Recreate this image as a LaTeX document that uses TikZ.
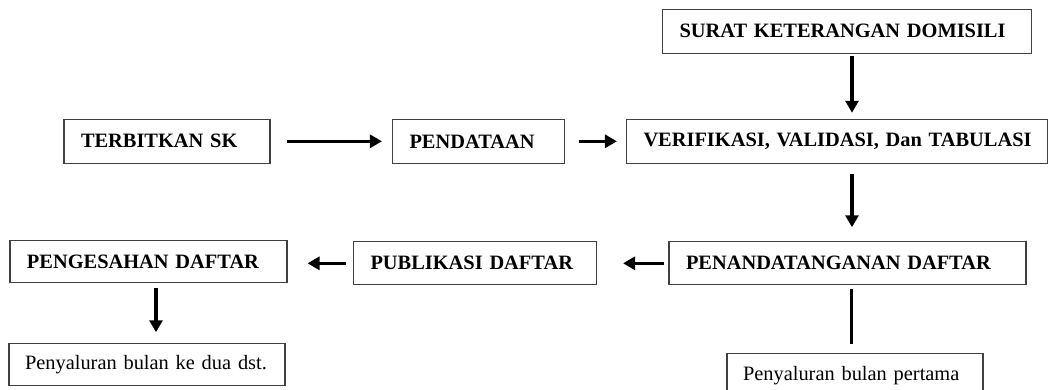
\documentclass[tikz,border=0pt]{standalone}
\usepackage{fontspec}
\setmainfont{Liberation Serif}
\usetikzlibrary{arrows.meta}
\newcommand{\bh}{44pt}

\begin{document}
\begin{tikzpicture}[x=1pt, y=-1pt,
    rect/.style={draw=black!75, line width=1.1pt, rectangle, minimum height=\bh, inner xsep=17pt, inner ysep=0pt, align=left, font=\fontsize{20.4}{24}\selectfont\bfseries},
    rectplain/.style={rect, inner xsep=16pt, font=\fontsize{20.4}{24}\selectfont},
    arr/.style={line width=3.3pt, -{Triangle[length=12pt, width=13pt]}}]
    \useasboundingbox (0,0) rectangle (1050,389);

    % First row
    \node[rect, text width=335pt] (rect-surat) at (847,31.3) {SURAT KETERANGAN DOMISILI};

    % Second row
    \node[rect, text width=172pt] (rect-terbit) at (167,141.3) {TERBITKAN SK};
    \node[rect, text width=138pt] (rect-pendataan) at (478.5,141.3) {PENDATAAN};
    \node[rect, text width=387pt] (rect-verif) at (837,141.3) {\mbox{VERIFIKASI, VALIDASI, Dan TABULASI}};

    % Third row
    \node[rect, text width=243pt, minimum height=42pt] (rect-pengesahan) at (148.5,261.7) {PENGESAHAN DAFTAR};
    \node[rect, text width=209pt, minimum height=43pt] (rect-publikasi) at (475,263.3) {PUBLIKASI DAFTAR};
    \node[rect, text width=323pt, minimum height=43pt] (rect-penanda) at (847.5,263.3) {PENANDATANGANAN DAFTAR};

    % Last row
    \node[rectplain, text width=244pt, minimum height=42pt] (rect-dua) at (147,364.8) {Penyaluran bulan ke dua dst.};
    \node[rectplain, text width=224pt] (rect-pertama) at (855,375.3) {Penyaluran bulan pertama};

    % Arrows
    \draw[arr, shorten <=2pt, shorten >=6pt] ([xshift=5pt]rect-surat.south) -- ([xshift=5pt]rect-surat.south |- rect-verif.north);
    \draw[arr, shorten <=16pt, shorten >=10pt] (rect-terbit.east) -- (rect-pendataan.west);
    \draw[arr, shorten <=14pt, shorten >=9pt] (rect-pendataan.east) -- (rect-verif.west);
    \draw[arr, shorten <=10pt, shorten >=14pt] ([xshift=15pt]rect-verif.south) -- ([xshift=15pt]rect-verif.south |- rect-penanda.north);
    \draw[arr, shorten <=4pt, shorten >=26pt] (rect-penanda.west) -- (rect-publikasi.east);
    \draw[arr, shorten <=7pt, shorten >=20pt] (rect-publikasi.west) -- (rect-publikasi.west -| rect-pengesahan.east);
    \draw[arr, shorten <=5pt, shorten >=11pt] ([xshift=7.5pt]rect-pengesahan.south) -- ([xshift=7.5pt]rect-pengesahan.south |- rect-dua.north);
    \draw[line width=3.3pt, shorten <=4pt, shorten >=9pt] ([xshift=4pt]rect-penanda.south) -- ([xshift=4pt]rect-penanda.south |- rect-pertama.north);

\end{tikzpicture}
\end{document}
